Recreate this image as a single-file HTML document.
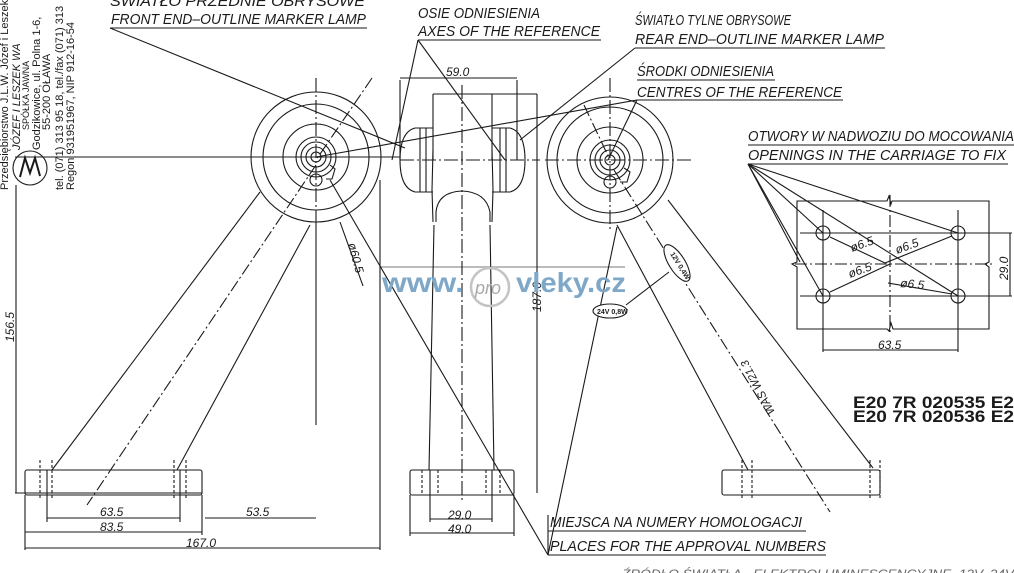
<!DOCTYPE html>
<html><head><meta charset="utf-8"><style>
html,body{margin:0;padding:0;background:#fff;}
svg{display:block;}
text{font-family:"Liberation Sans",sans-serif;fill:#1a1a1a;}
.l{font-style:italic;font-size:15px;}
.d{font-style:italic;font-size:12px;}
</style></head><body>
<svg width="1014" height="573" viewBox="0 0 1014 573" xmlns="http://www.w3.org/2000/svg">
<rect width="1014" height="573" fill="#fff"/>
<!-- watermark bar -->
<line x1="380" y1="267" x2="625" y2="267" stroke="#bbb" stroke-width="2"/>
<g stroke="#1a1a1a" stroke-width="1.1" fill="none">
<!-- axes -->
<line x1="15" y1="157" x2="400" y2="157"/>
<line x1="400" y1="160" x2="540" y2="160" stroke-dasharray="14,3,2,3"/>
<line x1="545" y1="160" x2="692" y2="160" stroke-dasharray="14,3,2,3"/>
<line x1="316" y1="78" x2="316" y2="222" stroke-dasharray="14,3,2,3"/>
<line x1="316" y1="222" x2="316" y2="425"/>
<line x1="610" y1="78" x2="610" y2="230" stroke-dasharray="14,3,2,3"/>
<line x1="462" y1="85" x2="462" y2="500" stroke-dasharray="14,3,2,3"/>
<line x1="372" y1="78" x2="316" y2="160" stroke-dasharray="12,3,2,3"/>
<line x1="584" y1="105" x2="610" y2="160" stroke-dasharray="12,3,2,3"/>
<!-- left lamp -->
<circle cx="316" cy="157" r="65"/><circle cx="316" cy="157" r="53"/><circle cx="316" cy="157" r="33"/>
<circle cx="316" cy="157" r="20"/><circle cx="316" cy="157" r="15"/><circle cx="316" cy="157" r="10"/><circle cx="316" cy="157" r="5"/>
<circle cx="316" cy="180" r="6"/><path d="M330 165 l5 4 l-3 10 l-6 0"/>
<!-- right lamp -->
<circle cx="610" cy="160" r="63"/><circle cx="610" cy="160" r="53"/><circle cx="610" cy="160" r="33"/>
<circle cx="610" cy="160" r="20"/><circle cx="610" cy="160" r="15"/><circle cx="610" cy="160" r="10"/><circle cx="610" cy="160" r="5"/>
<circle cx="610" cy="182" r="6"/><path d="M624 168 l6 4 l-3 10 l-7 0"/>
<!-- left arm -->
<line x1="260" y1="192" x2="52" y2="470"/>
<line x1="310" y1="225" x2="177" y2="470"/>
<line x1="316" y1="165" x2="87" y2="505" stroke-dasharray="12,3,2,3"/>
<line x1="340" y1="222" x2="363" y2="286"/>
<rect x="25" y="470" width="177" height="25" rx="2"/>
<line x1="15" y1="493" x2="202" y2="493"/>
<line x1="40" y1="460" x2="40" y2="500" stroke-dasharray="3,2"/><line x1="52" y1="460" x2="52" y2="500" stroke-dasharray="3,2"/>
<line x1="174" y1="460" x2="174" y2="500" stroke-dasharray="3,2"/><line x1="186" y1="460" x2="186" y2="500" stroke-dasharray="3,2"/>
<line x1="380" y1="180" x2="380" y2="550"/>
<line x1="16" y1="185" x2="16" y2="493"/>
<!-- right arm -->
<line x1="617" y1="225" x2="748" y2="470"/>
<line x1="668" y1="200" x2="873" y2="468"/>
<line x1="614" y1="170" x2="830" y2="512" stroke-dasharray="12,3,2,3"/>
<rect x="722" y="470" width="158" height="25" rx="2"/>
<line x1="742" y1="460" x2="742" y2="500" stroke-dasharray="3,2"/><line x1="752" y1="460" x2="752" y2="500" stroke-dasharray="3,2"/>
<line x1="870" y1="460" x2="870" y2="500" stroke-dasharray="3,2"/><line x1="880" y1="460" x2="880" y2="500" stroke-dasharray="3,2"/>
<!-- center body -->
<path d="M433 94 H537 M433 94 V160 M492 94 V160"/>
<path d="M433 150 L432 190 L433 222 M492 150 L493 190 L492 222"/>
<path d="M433 128 H415 Q400 132 400 160 Q400 188 415 192 H433"/>
<line x1="420" y1="128" x2="420" y2="192"/><line x1="426" y1="128" x2="426" y2="192"/>
<path d="M492 128 H510 Q525 132 525 160 Q525 188 510 192 H492"/>
<line x1="500" y1="128" x2="500" y2="192"/><line x1="506" y1="128" x2="506" y2="192"/>
<path d="M436 222 V212 Q438 192 462 191 Q486 192 490 212 V222"/>
<line x1="434" y1="225" x2="429" y2="470"/><line x1="490" y1="225" x2="494" y2="470"/>
<rect x="410" y="470" width="104" height="25" rx="2"/>
<line x1="422" y1="470" x2="422" y2="495" stroke-dasharray="3,2"/><line x1="438" y1="470" x2="438" y2="495" stroke-dasharray="3,2"/>
<line x1="486" y1="470" x2="486" y2="495" stroke-dasharray="3,2"/><line x1="500" y1="470" x2="500" y2="495" stroke-dasharray="3,2"/>
<line x1="537" y1="94" x2="537" y2="493"/>
<line x1="400" y1="80" x2="400" y2="160"/><line x1="517" y1="80" x2="517" y2="160"/>
<!-- dims -->
<line x1="400" y1="78" x2="517" y2="78"/>
<line x1="47" y1="518" x2="180" y2="518"/><line x1="25" y1="532" x2="202" y2="532"/>
<line x1="205" y1="518" x2="316" y2="518"/><line x1="25" y1="548" x2="380" y2="548"/>
<line x1="25" y1="495" x2="25" y2="550"/><line x1="202" y1="495" x2="202" y2="535"/>
<line x1="47" y1="470" x2="47" y2="522"/><line x1="180" y1="470" x2="180" y2="522"/>
<line x1="430" y1="519" x2="492" y2="519"/><line x1="410" y1="533" x2="514" y2="533"/>
<line x1="410" y1="495" x2="410" y2="536"/><line x1="514" y1="495" x2="514" y2="536"/>
<line x1="430" y1="470" x2="430" y2="522"/><line x1="492" y1="470" x2="492" y2="522"/>
<!-- leaders -->
<line x1="110" y1="28" x2="405" y2="148"/>
<line x1="418" y1="40" x2="392" y2="160"/><line x1="418" y1="40" x2="505" y2="160"/>
<line x1="635" y1="48" x2="520" y2="140"/>
<line x1="637" y1="100" x2="316" y2="157"/><line x1="637" y1="100" x2="608" y2="160"/>
<line x1="548" y1="555" x2="330" y2="180"/><line x1="548" y1="555" x2="617" y2="227"/>
<line x1="548" y1="515" x2="548" y2="555"/>
<line x1="626" y1="305" x2="669" y2="272"/>
<line x1="748" y1="164" x2="823" y2="233"/><line x1="748" y1="164" x2="823" y2="296"/>
<line x1="748" y1="164" x2="958" y2="233"/><line x1="748" y1="164" x2="958" y2="296"/>
<line x1="748" y1="164" x2="800" y2="262"/>
<!-- underlines -->
<line x1="110" y1="28" x2="367" y2="28"/>
<line x1="418" y1="40" x2="601" y2="40"/>
<line x1="635" y1="48" x2="885" y2="48"/>
<line x1="637" y1="80" x2="775" y2="80"/><line x1="637" y1="100" x2="843" y2="100"/>
<line x1="748" y1="145" x2="1014" y2="145"/><line x1="748" y1="164" x2="1008" y2="164"/>
<line x1="548" y1="531" x2="806" y2="531"/><line x1="548" y1="555" x2="826" y2="555"/>
<!-- hole plate -->
<path d="M797 201 H887 l2 -5 l2 8 l1 -3 H989 V262 l-4 2 l4 3 V329 H893 l-2 -6 l-2 8 l-2 -2 H797 V267 l-5 -3 l5 -2 Z"/>
<circle cx="823" cy="233" r="7"/><circle cx="958" cy="233" r="7"/><circle cx="823" cy="296" r="7"/><circle cx="958" cy="296" r="7"/>
<line x1="800" y1="233" x2="1012" y2="233"/><line x1="800" y1="296" x2="1012" y2="296"/>
<line x1="823" y1="210" x2="823" y2="352"/><line x1="958" y1="210" x2="958" y2="352"/>
<line x1="890" y1="195" x2="890" y2="335" stroke-dasharray="12,3,2,3"/>
<line x1="795" y1="264" x2="995" y2="264" stroke-dasharray="12,3,2,3"/>
<line x1="1010" y1="233" x2="1010" y2="296"/>
<line x1="823" y1="350" x2="958" y2="350"/>
<line x1="830" y1="237" x2="885" y2="263"/><line x1="885" y1="263" x2="952" y2="236"/>
<line x1="830" y1="292" x2="890" y2="264"/><line x1="888" y1="283" x2="952" y2="294"/>
<!-- ovals -->
<ellipse cx="677" cy="263" rx="8" ry="21" transform="rotate(-32 677 263)" fill="#fff"/>
<ellipse cx="610" cy="311" rx="17" ry="7" fill="#fff"/>
<!-- logo -->
<circle cx="30" cy="168" r="17"/>
<path d="M20 177 L25 158 L30 173 L35 158 L40 176" stroke-width="2"/>
</g>
<!-- labels -->
<text class="l" x="110" y="6" textLength="255" lengthAdjust="spacingAndGlyphs">ŚWIATŁO PRZEDNIE OBRYSOWE</text>
<text class="l" x="111" y="24" textLength="255" lengthAdjust="spacingAndGlyphs">FRONT END–OUTLINE MARKER LAMP</text>
<text class="l" x="418" y="18" textLength="122" lengthAdjust="spacingAndGlyphs">OSIE ODNIESIENIA</text>
<text class="l" x="418" y="36" textLength="182" lengthAdjust="spacingAndGlyphs">AXES OF THE REFERENCE</text>
<text class="l" x="635" y="25" textLength="156" lengthAdjust="spacingAndGlyphs">ŚWIATŁO TYLNE OBRYSOWE</text>
<text class="l" x="635" y="44" textLength="249" lengthAdjust="spacingAndGlyphs">REAR END–OUTLINE MARKER LAMP</text>
<text class="l" x="637" y="76" textLength="137" lengthAdjust="spacingAndGlyphs">ŚRODKI ODNIESIENIA</text>
<text class="l" x="637" y="97" textLength="205" lengthAdjust="spacingAndGlyphs">CENTRES OF THE REFERENCE</text>
<text class="l" x="748" y="141" textLength="266" lengthAdjust="spacingAndGlyphs">OTWORY W NADWOZIU DO MOCOWANIA</text>
<text class="l" x="748" y="160" textLength="258" lengthAdjust="spacingAndGlyphs">OPENINGS IN THE CARRIAGE TO FIX</text>
<text class="l" x="550" y="527" textLength="252" lengthAdjust="spacingAndGlyphs">MIEJSCA NA NUMERY HOMOLOGACJI</text>
<text class="l" x="550" y="551" textLength="276" lengthAdjust="spacingAndGlyphs">PLACES FOR THE APPROVAL NUMBERS</text>
<!-- dims text -->
<text class="d" x="446" y="76">59.0</text>
<text class="d" x="100" y="516">63.5</text>
<text class="d" x="100" y="531">83.5</text>
<text class="d" x="246" y="516">53.5</text>
<text class="d" x="186" y="547">167.0</text>
<text class="d" x="448" y="519">29.0</text>
<text class="d" x="448" y="533">49.0</text>
<text class="d" x="878" y="349">63.5</text>
<text class="d" transform="translate(14,342) rotate(-90)" fill="#555">156.5</text>
<text class="d" transform="translate(541,312) rotate(-90)">187.0</text>
<text class="d" transform="translate(1008,280) rotate(-90)">29.0</text>
<text class="d" transform="translate(348,244) rotate(75)">ø60.5</text>
<text class="d" x="852" y="252" transform="rotate(-20 852 252)">ø6.5</text>
<text class="d" x="897" y="254" transform="rotate(-20 897 254)">ø6.5</text>
<text class="d" x="850" y="278" transform="rotate(-20 850 278)">ø6.5</text>
<text class="d" x="900" y="287" transform="rotate(5 900 287)">ø6.5</text>
<text style="font-size:7px;font-weight:bold" x="597" y="314">24V 0,8W</text>
<text style="font-size:7px;font-weight:bold" transform="translate(670,254) rotate(58)">12V 0,4W</text>
<text class="d" transform="translate(775,412) rotate(-118)" style="font-size:11px">WAS W21.3</text>
<!-- E20 -->
<text x="853" y="408" style="font-size:17px;font-weight:bold" textLength="161" lengthAdjust="spacingAndGlyphs">E20  7R  020535  E2</text>
<text x="853" y="422" style="font-size:17px;font-weight:bold" textLength="161" lengthAdjust="spacingAndGlyphs">E20  7R  020536  E2</text>
<!-- watermark -->
<text x="382" y="292" style="font-size:28px;font-weight:bold;fill:#7fa8c8" textLength="82" lengthAdjust="spacingAndGlyphs">www.</text>
<circle cx="490" cy="287" r="19" fill="none" stroke="#c4c4c4" stroke-width="2.5"/>
<text x="475" y="294" style="font-size:18px;font-style:italic;fill:#aaa">pro</text>
<text x="516" y="292" style="font-size:28px;font-weight:bold;fill:#7fa8c8" textLength="110" lengthAdjust="spacingAndGlyphs">vleky.cz</text>
<!-- company text -->
<g style="font-family:'Liberation Serif',serif;font-size:11px">
<text transform="translate(8,190) rotate(-90)">Przedsiębiorstwo J.L.W. Józef i Leszek WA</text>
<text transform="translate(20,150) rotate(-90)" style="font-style:italic">JÓZEF I LESZEK WA</text>
<text transform="translate(29,130) rotate(-90)" style="font-size:9px">SPÓŁKA JAWNA</text>
<text transform="translate(40,150) rotate(-90)">Godzikowice, ul. Polna 1-6,</text>
<text transform="translate(50,130) rotate(-90)">55-200 OŁAWA</text>
<text transform="translate(63,190) rotate(-90)">tel. (071) 313 95 18, tel./fax (071) 313</text>
<text transform="translate(74,190) rotate(-90)">Regon 931951967, NIP 912-16-54</text>
</g>
<text x="622" y="578" style="font-size:12px;font-style:italic;fill:#666" textLength="392" lengthAdjust="spacingAndGlyphs">ŹRÓDŁO ŚWIATŁA - ELEKTROLUMINESCENCYJNE, 12V, 24V</text>
</svg>
</body></html>
